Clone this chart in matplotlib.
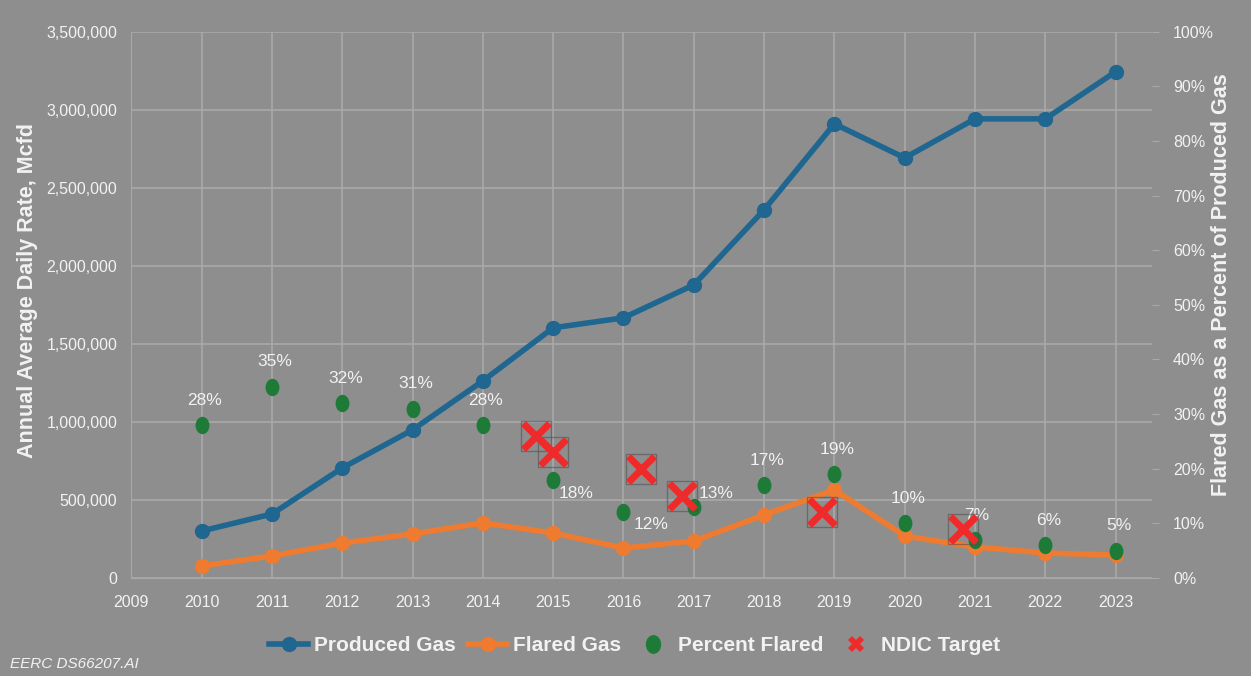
import matplotlib
matplotlib.use('Agg')
import matplotlib.pyplot as plt
from matplotlib.ticker import FuncFormatter
from matplotlib.markers import MarkerStyle
from matplotlib.transforms import Affine2D
from matplotlib.lines import Line2D
import numpy as np

plt.rcParams['font.family'] = ['Liberation Sans', 'DejaVu Sans']

years = [2010, 2011, 2012, 2013, 2014, 2015, 2016, 2017, 2018, 2019, 2020, 2021, 2022, 2023]
produced = [301000, 410000, 705000, 949000, 1263000, 1603000, 1667000, 1878000,
            2359000, 2910000, 2692000, 2942000, 2942000, 3244000]
flared = [77000, 141000, 224000, 282000, 353000, 288000, 192000, 237000,
          404000, 564000, 269000, 199000, 160000, 147000]
percent = [28, 35, 32, 31, 28, 18, 12, 13, 17, 19, 10, 7, 6, 5]
target_dates = [2014.75, 2015.0, 2016.25, 2016.83, 2018.83, 2020.83]
target_pct = [26, 23, 20, 15, 12, 9]

bg = '#8e8e8e'
grid_c = '#a9a9a9'
txt = '#f2f2f2'
blue = '#1f6690'
orange = '#ee7b30'
green = '#1d7a37'
red = '#ee2a2a'

ellipse = MarkerStyle('o', transform=Affine2D().scale(0.8, 1.0))

fig = plt.figure(figsize=(12.51, 6.76), dpi=100, facecolor=bg)
ax = fig.add_axes([0.105, 0.145, 0.816, 0.808], facecolor=bg)
ax2 = ax.twinx()

ax.set_xlim(2009, 2023.52)
ax.set_ylim(0, 3500000)
ax2.set_ylim(0, 100)

ax.set_xticks(range(2009, 2024))
ax.set_yticks(np.arange(0, 3500001, 500000))
ax.yaxis.set_major_formatter(FuncFormatter(lambda v, p: f"{int(v):,}"))
ax2.set_yticks(range(0, 101, 10))
ax2.yaxis.set_major_formatter(FuncFormatter(lambda v, p: f"{int(v)}%"))

ax.grid(True, color=grid_c, linewidth=1.2)
ax.set_axisbelow(True)
for s in ['top', 'right']:
    ax.spines[s].set_visible(False)
for s in ['top', 'left', 'bottom', 'right']:
    ax2.spines[s].set_visible(False)
ax.spines['left'].set_color(grid_c)
ax.spines['bottom'].set_color(grid_c)

ax.tick_params(axis='both', length=0, colors=txt, labelsize=11.5, pad=10)
ax.tick_params(axis='x', pad=12)
ax2.tick_params(axis='y', length=5, color=grid_c, labelcolor=txt, labelsize=11.5, pad=10)

ax.set_ylabel("Annual Average Daily Rate, Mcfd", color=txt, fontsize=15.5, fontweight='bold')
ax.yaxis.set_label_coords(-0.091, 0.527)
ax2.set_ylabel("Flared Gas as a Percent of Produced Gas", color=txt, fontsize=15.5,
               fontweight='bold')
ax2.yaxis.set_label_coords(1.058, 0.537)

ax.plot(years, produced, color=blue, linewidth=4, marker='o', markersize=10, zorder=3)
ax.plot(years, flared, color=orange, linewidth=4, marker='o', markersize=10, zorder=3)

ax2.plot(years, percent, linestyle='none', marker=ellipse, markersize=12.5, color=green,
         markeredgewidth=0, zorder=4)
ax2.plot(target_dates, target_pct, linestyle='none', marker='s', markersize=22,
         markerfacecolor='none', markeredgecolor='#4e4e4e', markeredgewidth=1, alpha=0.55, zorder=4)
ax2.plot(target_dates, target_pct, linestyle='none', marker='x', markersize=19,
         markeredgewidth=5, color=red, zorder=5)

# percent labels (offsets in pixels)
offsets = {2015: (5, -14, 'left'), 2016: (10, -12, 'left'), 2017: (5, 13, 'left'),
           2021: (2, 24, 'center')}
for yr, p in zip(years, percent):
    dx, dy, ha = offsets.get(yr, (3, 25, 'center'))
    ax2.annotate(f"{p}%", (yr, p), xytext=(dx * 0.72, dy * 0.72), textcoords='offset points',
                 ha=ha, va='center', color=txt, fontsize=12.5)

handles = [
    Line2D([], [], color=blue, linewidth=4, marker='o', markersize=10),
    Line2D([], [], color=orange, linewidth=4, marker='o', markersize=10),
    Line2D([], [], linestyle='none', color=green, marker=ellipse, markersize=12.5),
    Line2D([], [], linestyle='none', color=red, marker='X', markersize=12, markeredgewidth=0),
]
labels = ['Produced Gas', 'Flared Gas', 'Percent Flared', 'NDIC Target']
leg = fig.legend(handles, labels, loc='center', bbox_to_anchor=(0.507, 0.045), ncol=4,
                 frameon=False, handlelength=1.9, columnspacing=0.6,
                 handletextpad=0.25, prop={'weight': 'bold', 'size': 15})
for t in leg.get_texts():
    t.set_color(txt)

fig.text(0.008, 0.012, "EERC DS66207.AI", color=txt, fontsize=11, style='italic')

fig.savefig('out.png', dpi=100, facecolor=bg)
